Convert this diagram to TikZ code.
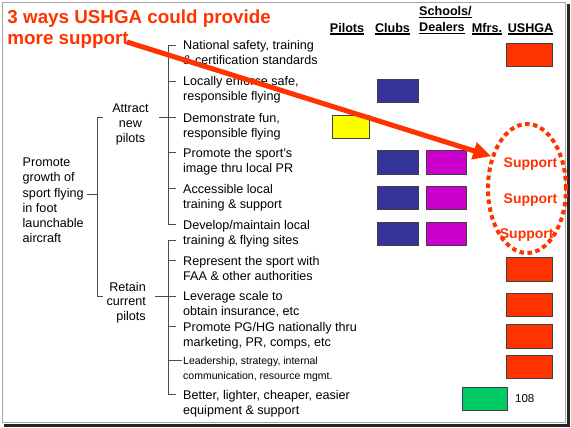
\documentclass[tikz,border=0pt]{standalone}
\usepackage{fontspec}
\setmainfont{Liberation Sans}
\usepackage{xcolor}
\definecolor{hotred}{HTML}{FF3300}
\definecolor{clubblue}{HTML}{333399}
\definecolor{schoolmag}{HTML}{CC00CC}
\definecolor{pilotyel}{HTML}{FFFF00}
\definecolor{mfrgreen}{HTML}{00CC66}
\usepackage{tikz}
\usetikzlibrary{arrows.meta, shapes.geometric, calc}
\newcommand{\colhead}[1]{\setbox0\hbox{#1}\rlap{\rule[-2.4pt]{\wd0}{1.2pt}}\box0}

\begin{document}
\begin{tikzpicture}[x=1pt, y=-1pt, >=Stealth,
  leaf/.style={anchor=base west, align=left, inner sep=0pt, font=\fontsize{12.6}{15}\selectfont},
  mid/.style={inner sep=0pt, font=\fontsize{12.6}{14.7}\selectfont},
  cell/.style={draw=black!75, line width=0.8pt, minimum width=41pt, minimum height=23.5pt, inner sep=0pt},
  brk/.style={draw=black!70, line width=0.8pt},
  hdr/.style={anchor=base, inner sep=0pt, font=\bfseries\fontsize{12.6}{15.7}\selectfont},
  supp/.style={anchor=base, inner sep=0pt, text=hotred, font=\bfseries\fontsize{14}{16}\selectfont}]
  \useasboundingbox (0,0) rectangle (571,428);
  \fill[white] (0,0) rectangle (571,428);
  \draw[gray!70, line width=1pt] (2.5,2.5) rectangle (565.5,422.5);
  \draw[black!85, line width=2.5pt] (568.5,4) -- (568.5,425.5) -- (4,425.5);

  \node[anchor=base west, align=left, inner sep=0pt, text=hotred, font=\bfseries\fontsize{18.8}{21.7}\selectfont] (title) at (7.3,45) {3 ways USHGA could provide\\more support};

  \node[hdr] (hpil) at (347,32.3) {\colhead{Pilots}};
  \node[hdr] (hclub) at (392.5,32.3) {\colhead{Clubs}};
  \node[hdr, anchor=base west, align=left] (hsch) at (419,31.7) {\colhead{Schools/}\\\colhead{Dealers}};
  \node[hdr] (hmfr) at (487,32.3) {\colhead{Mfrs.}};
  \node[hdr] (hush) at (530.5,32.3) {\colhead{USHGA}};

  \node[leaf, font=\fontsize{12.6}{15.2}\selectfont] (root) at (22.5,242.7) {Promote\\growth of\\sport flying\\in foot\\launchable\\aircraft};
  \node[mid, anchor=base, align=center] (att) at (130.5,142.1) {Attract\\new\\pilots};
  \node[mid, anchor=base east, align=right] (ret) at (146,320.4) {Retain\\current\\pilots};

  \node[leaf] (safety) at (183,65) {National safety, training\\\& certification standards};
  \node[leaf] (enforce) at (183,101) {Locally enforce safe,\\responsible flying};
  \node[leaf] (demo) at (183,137.3) {Demonstrate fun,\\responsible flying};
  \node[leaf] (image) at (183,172.3) {Promote the sport's\\image thru local PR};
  \node[leaf] (access) at (183,208.3) {Accessible local\\training \& support};
  \node[leaf] (sites) at (183,244) {Develop/maintain local\\training \& flying sites};
  \node[leaf] (faa) at (183,280) {Represent the sport with\\FAA \& other authorities};
  \node[leaf] (insur) at (183,315.7) {Leverage scale to\\obtain insurance, etc};
  \node[leaf] (natl) at (183,346) {Promote PG/HG nationally thru\\marketing, PR, comps, etc};
  \node[leaf, font=\fontsize{10.5}{14.7}\selectfont] (lead) at (183,379) {Leadership, strategy, internal\\communication, resource mgmt.};
  \node[leaf] (equip) at (183,414.3) {Better, lighter, cheaper, easier\\equipment \& support};

  \draw[brk] ($(root.base west)+(64.5,-48.5)$) -- ++(10,0);
  \draw[brk] ($(demo.base west)+(-80,-19.5)$) -- ++(-6,0) |- ($(insur.base west)+(-80,-19.5)$);
  \draw[brk] ($(demo.base west)+(-7,-19.5)$) -- ++(-17.5,0);
  \draw[brk] ($(insur.base west)+(-7,-19.5)$) -- ++(-21.5,0);
  \draw[brk] ($(safety.base west)+(-7,-19.5)$) -- ++(-7.5,0) |- ($(sites.base west)+(-7,-19.5)$);
  \draw[brk] ($(enforce.base west)+(-7,-19.5)$) -- ++(-7.5,0);
  \draw[brk] ($(image.base west)+(-7,-19.5)$) -- ++(-7.5,0);
  \draw[brk] ($(access.base west)+(-7,-19.5)$) -- ++(-7.5,0);
  \draw[brk] ($(sites.base west)+(-7,-4)$) -- ++(-7.5,0) |- ($(equip.base west)+(-7,-19.5)$);
  \draw[brk] ($(faa.base west)+(-7,-19.5)$) -- ++(-7.5,0);
  \draw[brk] ($(natl.base west)+(-7,-19.5)$) -- ++(-7.5,0);
  \draw[brk] ($(lead.base west)+(-1,-18.5)$) -- ++(-13.5,0);

  \node[cell, fill=hotred, minimum width=45.5pt] (u1) at (529.5,55) {};
  \node[cell, fill=clubblue] (c2) at (397.8,91) {};
  \node[cell, fill=pilotyel, minimum width=36.5pt] (p3) at (351,127) {};
  \node[cell, fill=clubblue] (c4) at (397.8,162.5) {};
  \node[cell, fill=schoolmag, minimum width=40pt] (s4) at (446.7,162.5) {};
  \node[cell, fill=clubblue] (c5) at (397.8,198) {};
  \node[cell, fill=schoolmag, minimum width=40pt] (s5) at (446.7,198) {};
  \node[cell, fill=clubblue] (c6) at (397.8,234) {};
  \node[cell, fill=schoolmag, minimum width=40pt] (s6) at (446.7,234) {};
  \node[cell, fill=hotred, minimum width=45.5pt] (u7) at (529.5,269.3) {};
  \node[cell, fill=hotred, minimum width=45.5pt] (u8) at (529.5,305) {};
  \node[cell, fill=hotred, minimum width=45.5pt] (u9) at (529.5,336.3) {};
  \node[cell, fill=hotred, minimum width=45.5pt] (u10) at (529.5,367) {};
  \node[cell, fill=mfrgreen, minimum width=45pt] (m11) at (484.8,398.7) {};
  \node[anchor=base west, inner sep=0pt, font=\fontsize{11.5}{13}\selectfont] (num) at (515,402.7) {108};

  \node[ellipse, draw=hotred, line width=4pt, dash pattern=on 4.5pt off 3.5pt, minimum width=78pt, minimum height=129pt, inner sep=0pt] (ring) at (527,188.5) {};
  \node[supp] (sup1) at (530.5,167.7) {Support};
  \node[supp] (sup2) at (530.5,203.3) {Support};
  \node[supp] (sup3) at (526.7,238.3) {Support};

  \coordinate (tail) at (127,42);
  \draw[hotred, line width=5pt, -{Triangle[length=18pt, width=17pt]}] (tail) -- (ring.138);
\end{tikzpicture}
\end{document}
